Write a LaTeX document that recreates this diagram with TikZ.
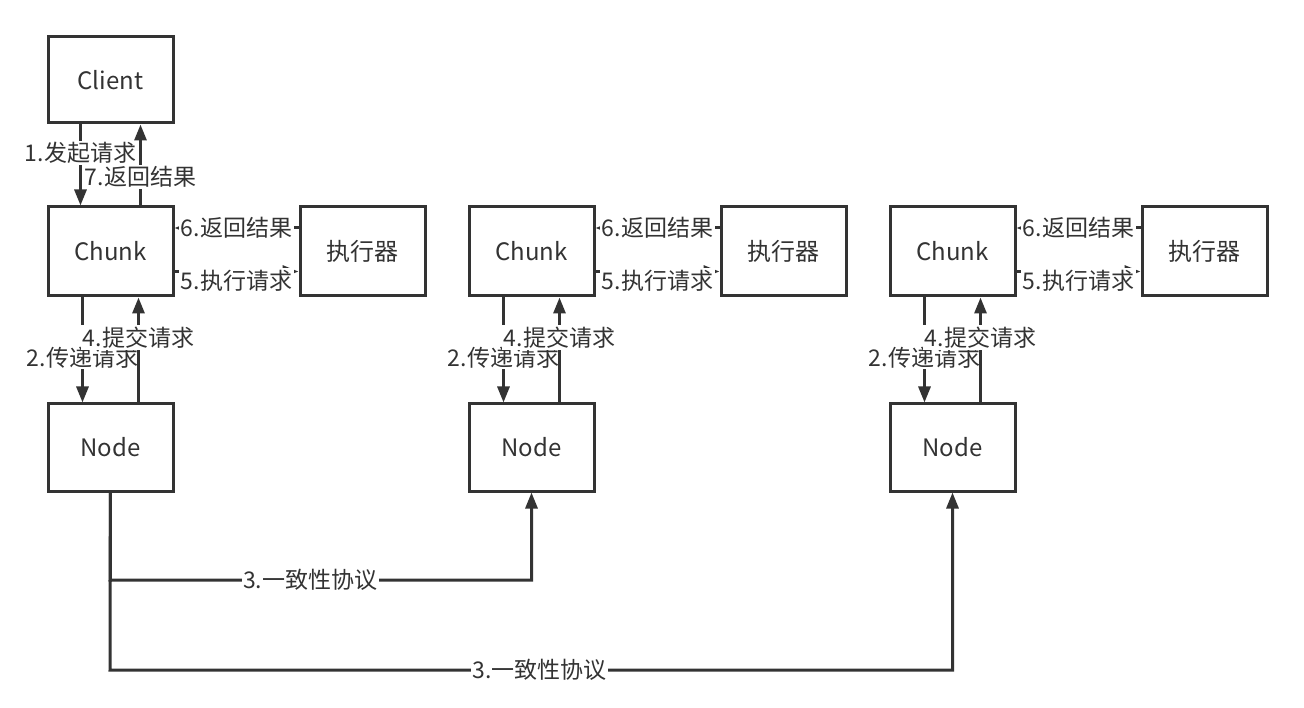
\documentclass[tikz,border=0pt]{standalone}
\usepackage{fontspec}
\setmainfont{Noto Sans CJK SC}
\usetikzlibrary{arrows.meta}
\definecolor{ink}{HTML}{333333}
\tikzset{
  box/.style={draw=ink, line width=3pt, minimum width=125pt, text=ink, inner sep=0pt, font=\fontsize{24}{28}\selectfont},
  arr/.style={draw=ink, line width=3pt, -{Triangle[length=16pt,width=12pt]}},
  lbl/.style={fill=white, text=ink, inner sep=1.5pt, font=\fontsize{23}{27}\selectfont},
}
\begin{document}
\begin{tikzpicture}[x=1pt,y=-1pt]
\useasboundingbox (0,0) rectangle (1304,708);
% boxes
\node[box, minimum height=86pt] (client) at (110.5,80) {Client};
\foreach \i/\x in {1/110.5, 2/531.5, 3/952.5} {
  \node[box, minimum height=89pt] (chunk\i) at (\x,251.5) {Chunk};
  \node[box, minimum height=89pt] (exec\i) at (\x+252,251.5) {执行器};
  \node[box, minimum height=87pt] (node\i) at (\x,447.5) {Node};
}
% client <-> chunk1
\draw[arr] ([xshift=-30pt]client.south) -- node[lbl, pos=0.35]{1.发起请求} ([xshift=-30pt]chunk1.north);
\draw[arr] ([xshift=30pt]chunk1.north) -- node[lbl, pos=0.35]{7.返回结果} ([xshift=30pt]client.south);
% per column
\foreach \i in {1,2,3} {
  \draw[arr] ([yshift=23.5pt]exec\i.west) -- node[lbl]{6.返回结果} ([yshift=23.5pt]chunk\i.east);
  \draw[arr] ([yshift=-20pt]chunk\i.east) -- node[lbl, yshift=-9pt]{5.执行请求} ([yshift=-20pt]exec\i.west);
  \draw[arr] ([xshift=-28pt]chunk\i.south) -- node[lbl, pos=0.57]{2.传递请求} ([xshift=-28pt]node\i.north);
  \draw[arr] ([xshift=28pt]node\i.north) -- node[lbl, pos=0.62]{4.提交请求} ([xshift=28pt]chunk\i.south);
}
% consensus
\coordinate (c1) at (110,580);
\coordinate (c2) at (110,670);
\draw[arr] (node1.south) -- (c1) -| node[lbl, pos=0.2375]{3.一致性协议} (node2.south);
\draw[arr] (node1.south) -- (c2) -| node[lbl, pos=0.255]{3.一致性协议} (node3.south);
\end{tikzpicture}
\end{document}
